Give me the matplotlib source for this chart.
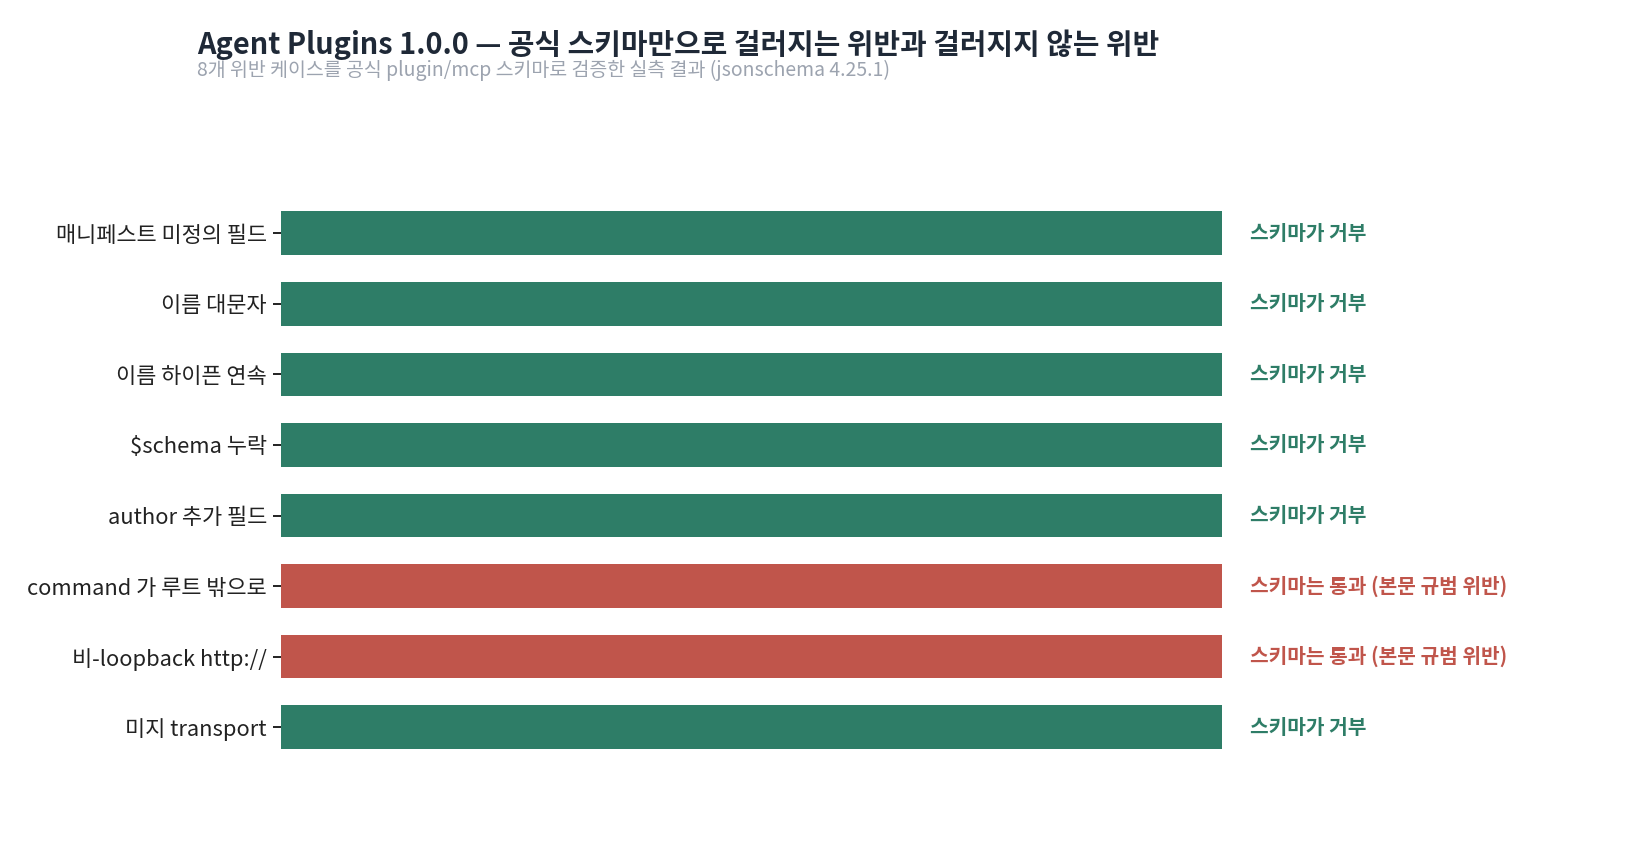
import matplotlib.pyplot as plt

plt.rcParams['font.family'] = ['Noto Sans CJK KR', 'DejaVu Sans']

# Data
cases = ["매니페스트 미정의 필드", "이름 대문자", "이름 하이픈 연속", "$schema 누락",
         "author 추가 필드", "command 가 루트 밖으로", "비-loopback http://", "미지 transport"]
rejected = [True, True, True, True, True, False, False, True]
values = [1, 1, 1, 1, 1, 1, 1, 1]

green = "#2e7d67"
red = "#c0554b"

fig = plt.figure(figsize=(16.32, 8.5), dpi=100)
ax = fig.add_axes([0.172, 0.103, 0.5766, 0.664])

colors = [green if r else red for r in rejected]
ypos = list(range(len(cases)))
ax.barh(ypos, values, height=0.62, color=colors)
ax.set_xlim(0, 1)
ax.set_ylim(len(cases) - 0.5, -0.5)
ax.set_yticks(ypos)
ax.set_yticklabels(cases, fontsize=15.8, color="#222222")
ax.tick_params(axis='y', length=6, width=1.4, color="#222222", pad=4)
ax.set_xticks([])
for s in ax.spines.values():
    s.set_visible(False)

for y, r, v in zip(ypos, rejected, values):
    txt = "스키마가 거부" if r else "스키마는 통과 (본문 규범 위반)"
    ax.text(v + 0.03, y, txt, va='center', ha='left', fontsize=14.6,
            fontweight='bold', color=green if r else red)

fig.text(197 / 1632, 1 - 45 / 850, "Agent Plugins 1.0.0 — 공식 스키마만으로 걸러지는 위반과 걸러지지 않는 위반",
         fontsize=20.8, fontweight='bold', color="#1f2937", va='center')
fig.text(197 / 1632, 1 - 70 / 850, "8개 위반 케이스를 공식 plugin/mcp 스키마로 검증한 실측 결과 (jsonschema 4.25.1)",
         fontsize=14, color="#9ca3af", va='center')

fig.savefig("out.png", dpi=100)
